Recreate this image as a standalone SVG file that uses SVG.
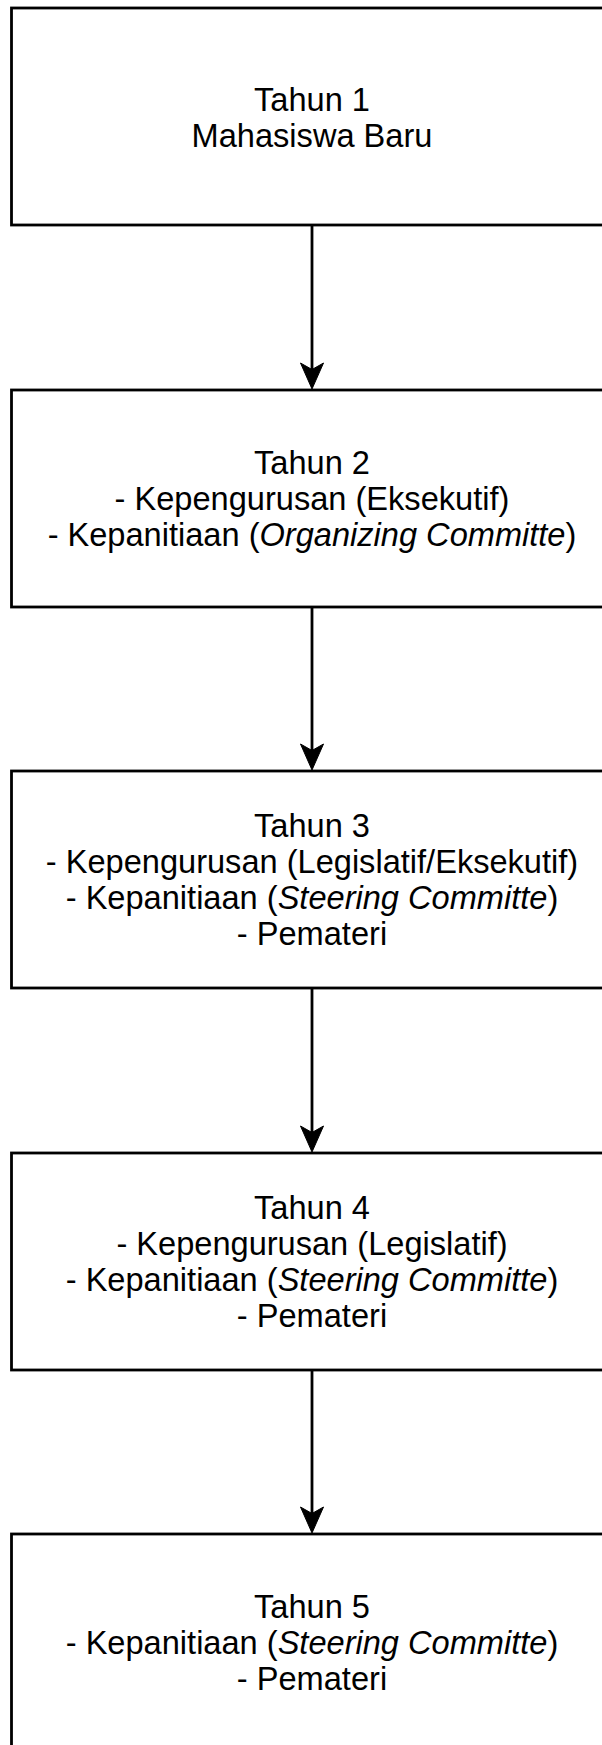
<svg xmlns="http://www.w3.org/2000/svg" width="602" height="1745" viewBox="0 0 602 1745">
<style>
.box{fill:#fff;stroke:#000;stroke-width:2.8}
.t{font-family:"Liberation Sans",Arial,sans-serif;font-size:32.6px;fill:#000;text-anchor:middle}
.i{font-style:italic}
.c{stroke:#000;stroke-width:2.8;fill:none}
.h{fill:#000;stroke:#000;stroke-width:1}
</style>
<rect width="602" height="1745" fill="#fff"/>
<g id="connectors">
<line class="c" x1="312" y1="225" x2="312" y2="372"/>
<path class="h" d="M312 389 L300.5 363 L312 369.5 L323.5 363 Z"/>
<line class="c" x1="312" y1="607" x2="312" y2="753"/>
<path class="h" d="M312 770 L300.5 744 L312 750.5 L323.5 744 Z"/>
<line class="c" x1="312" y1="988" x2="312" y2="1135"/>
<path class="h" d="M312 1152 L300.5 1126 L312 1132.5 L323.5 1126 Z"/>
<line class="c" x1="312" y1="1370" x2="312" y2="1516"/>
<path class="h" d="M312 1533 L300.5 1507 L312 1513.5 L323.5 1507 Z"/>
</g>
<g id="node1">
<rect class="box" x="11.5" y="8" width="602" height="217"/>
<text class="t" x="312" y="110.5">Tahun 1</text>
<text class="t" x="312" y="146.5">Mahasiswa Baru</text>
</g>
<g id="node2">
<rect class="box" x="11.5" y="390" width="602" height="217"/>
<text class="t" x="312" y="474">Tahun 2</text>
<text class="t" x="312" y="510">- Kepengurusan (Eksekutif)</text>
<text class="t" x="312" y="546">- Kepanitiaan (<tspan class="i">Organizing Committe</tspan>)</text>
</g>
<g id="node3">
<rect class="box" x="11.5" y="771" width="602" height="217"/>
<text class="t" x="312" y="837">Tahun 3</text>
<text class="t" x="312" y="873">- Kepengurusan (Legislatif/Eksekutif)</text>
<text class="t" x="312" y="909">- Kepanitiaan (<tspan class="i">Steering Committe</tspan>)</text>
<text class="t" x="312" y="945">- Pemateri</text>
</g>
<g id="node4">
<rect class="box" x="11.5" y="1153" width="602" height="217"/>
<text class="t" x="312" y="1219">Tahun 4</text>
<text class="t" x="312" y="1255">- Kepengurusan (Legislatif)</text>
<text class="t" x="312" y="1291">- Kepanitiaan (<tspan class="i">Steering Committe</tspan>)</text>
<text class="t" x="312" y="1327">- Pemateri</text>
</g>
<g id="node5">
<rect class="box" x="11.5" y="1534" width="602" height="217"/>
<text class="t" x="312" y="1618">Tahun 5</text>
<text class="t" x="312" y="1654">- Kepanitiaan (<tspan class="i">Steering Committe</tspan>)</text>
<text class="t" x="312" y="1690">- Pemateri</text>
</g>
</svg>
